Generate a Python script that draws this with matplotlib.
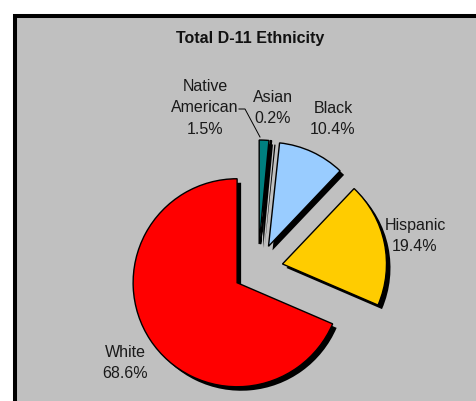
import matplotlib
matplotlib.use("Agg")
import matplotlib.pyplot as plt
from matplotlib.patches import Rectangle

plt.rcParams['font.family'] = ['Liberation Sans', 'DejaVu Sans']

# ethnicity shares, clockwise from 12 o'clock
groups = ['Native\nAmerican', 'Asian', 'Black', 'Hispanic', 'White']
shares = [1.5, 0.2, 10.4, 19.4, 68.6]
colors = ['#008080', '#000033', '#99ccff', '#ffcc00', '#ff0000']

# label anchor points (pixels, y up)
label_xy = [(205, 293), (273, 293), (333, 282), (415, 165), (125, 38)]

W, H = 477, 401
fig = plt.figure(figsize=(W / 100, H / 100), dpi=100)
ax = fig.add_axes([0, 0, 1, 1])
ax.set_xlim(0, W)
ax.set_ylim(0, H)
ax.set_aspect('equal')
ax.axis('off')

# grey chart area with a heavy frame, running off the right and bottom
ax.add_patch(Rectangle((15, -20), 520, 401 - 16 + 20, facecolor='#c0c0c0',
                       edgecolor='black', linewidth=2.9, zorder=0))

center = (258, 132)
radius = 104
explode = [25] * len(shares)

# solid drop shadow first, then the coloured wedges on top
ax.pie(shares, colors=['black'] * len(shares), startangle=90, counterclock=False,
       center=(center[0] + 4, center[1] - 4), radius=radius, explode=explode,
       wedgeprops=dict(linewidth=0), frame=True)
ax.pie(shares, colors=colors, startangle=90, counterclock=False,
       center=center, radius=radius, explode=explode,
       wedgeprops=dict(edgecolor='black', linewidth=1.0), frame=True)
ax.set_xlim(0, W)
ax.set_ylim(0, H)
ax.axis('off')

for name, val, (lx, ly) in zip(groups, shares, label_xy):
    ax.text(lx, ly, f'{name}\n{val:.1f}%', ha='center', va='center',
            fontsize=11.5, color='#1a1a1a', linespacing=1.55)

# leader line for the Native American slice
ax.plot([239, 245, 260], [292, 292, 264], color='black', linewidth=0.7)

ax.text(250, 362, 'Total D-11 Ethnicity', ha='center', va='center',
        fontsize=11.5, fontweight='bold', color='#111111')

fig.savefig('out.png', dpi=100)
